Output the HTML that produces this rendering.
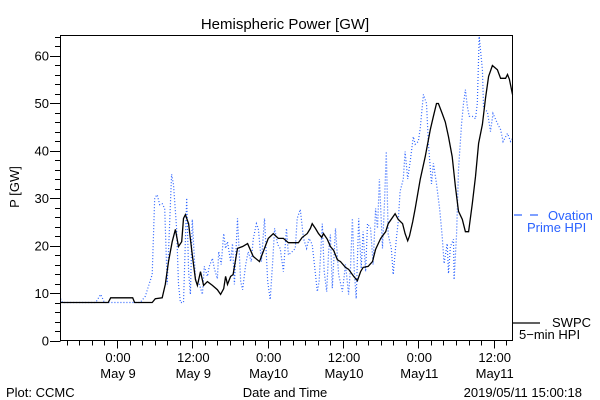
<!DOCTYPE html>
<html><head><meta charset="utf-8">
<style>
html,body{margin:0;padding:0;background:#fff;}
svg{display:block;font-family:"Liberation Sans",sans-serif;}
</style></head>
<body>
<svg id="chart" width="600" height="400" viewBox="0 0 600 400" xmlns="http://www.w3.org/2000/svg">
<rect x="0" y="0" width="600" height="400" fill="#fff"/>
<text x="285" y="29" font-size="15" text-anchor="middle" fill="#000">Hemispheric Power [GW]</text>
<text transform="translate(19,187) rotate(-90)" font-size="13" text-anchor="middle" fill="#000">P [GW]</text>
<text x="285" y="397" font-size="13" text-anchor="middle" fill="#000">Date and Time</text>
<text x="6" y="397" font-size="13" fill="#000">Plot: CCMC</text>
<text x="582" y="397" font-size="13" text-anchor="end" fill="#000">2019/05/11 15:00:18</text>
<g id="ticks"></g>
<g id="series"></g>
<rect x="60.5" y="35.5" width="452" height="305" fill="none" stroke="#000" stroke-width="1"/>
<g>
<line x1="514" y1="215" x2="522" y2="215" stroke="#2a62ff" stroke-width="1.2"/>
<line x1="530" y1="215" x2="538" y2="215" stroke="#2a62ff" stroke-width="1.2"/>
<text x="548" y="220" font-size="13" fill="#2a62ff">Ovation</text>
<text x="527" y="232" font-size="13" fill="#2a62ff">Prime HPI</text>
</g>
<g>
<line x1="513" y1="323" x2="540" y2="323" stroke="#000" stroke-width="1.2"/>
<text x="552" y="327" font-size="13" fill="#000">SWPC</text>
<text x="519" y="339" font-size="13" fill="#000">5−min HPI</text>
</g>
</svg>
<script>
// hours relative to May 9 00:00
const yTicks = [0,10,20,30,40,50,60];
const xTickHours = [0,12,24,36,48,60];
const xTickTimes = ["0:00","12:00","0:00","12:00","0:00","12:00"];
const xTickDates = ["May 9","May 9","May10","May10","May11","May11"];
const swpcT = [-9,-1.4,-1.0,2.5,2.8,5.6,6.1,7.2,7.7,8.2,8.8,9.3,9.8,10.3,10.6,10.9,11.4,12.0,12.5,12.8,13.3,13.8,14.4,15.2,16.0,16.5,17.0,17.3,17.6,18.1,18.5,19.2,20.0,20.8,21.7,22.7,23.6,24.1,24.9,25.7,26.5,27.3,28.9,29.5,30.3,30.8,31.1,31.6,32.1,32.6,32.9,33.5,34.0,34.5,35.1,35.6,36.4,36.9,37.7,38.3,38.8,39.2,40.0,40.7,41.2,42.0,42.8,43.2,44.3,44.8,45.5,45.9,46.3,46.6,47.1,47.5,48.3,49.1,49.9,50.4,50.9,51.2,51.8,52.3,52.8,53.4,53.9,54.4,55.0,55.5,56.0,56.6,57.1,57.6,58.2,58.7,59.2,59.8,60.6,61.1,61.9,62.2,62.5,63.0];
const swpcV = [8,8,9,9,8,8,8.8,9,11.8,16.6,20.8,23.4,19.8,20.8,25.7,26.5,24.6,18,12.8,11.6,14.5,11.6,12.4,11.6,10.7,9.7,10.9,13.5,11.8,13.5,13.9,19.4,19.8,20.4,17.7,16.6,19.8,21.5,22.5,21.5,21.5,20.6,20.6,21.7,22.5,23.6,24.6,23.6,22.5,21.7,22.5,21.3,19.8,19,17,16.6,15.4,15,13.5,12.6,14.5,15.4,15.6,16.6,19.2,21.5,22.9,24.6,26.7,25.5,24.6,22.5,21,22,25,27.8,33.9,38.7,44.4,47.2,49.9,49.9,47.8,46,42.9,38.7,32.4,27.2,25.5,22.9,22.9,28.8,34.5,41.5,45.5,51,55.6,57.9,57,55.2,55.2,56,55,51.8];
const ovationT = [-9,-8.7,-3.4,-2.6,-2.0,3.7,4.5,5.0,5.6,6.0,6.4,6.8,7.2,7.6,8.0,8.7,9.0,9.5,9.8,10.1,10.6,11.1,11.4,11.7,12.0,12.5,13.0,13.6,13.9,14.4,14.7,15.2,15.5,16.0,16.2,16.6,17.0,17.3,17.6,18.1,18.4,18.7,19.2,19.7,20.0,20.5,20.9,21.4,21.7,22.2,22.5,23.0,23.5,24.0,24.4,24.8,25.1,25.6,26.0,26.5,27.0,27.3,27.9,28.4,28.7,29.2,29.7,30.2,30.6,31.1,31.4,31.9,32.2,32.7,33.0,33.4,33.7,34.0,34.3,34.8,35.3,35.9,36.4,36.9,37.2,37.5,37.8,38.1,38.5,38.9,39.2,39.6,39.9,40.4,40.8,41.2,41.5,41.8,42.3,42.6,42.9,43.2,43.7,44.0,44.5,44.8,45.1,45.6,45.9,46.3,46.7,47.2,47.5,48.0,48.3,48.8,49.3,49.6,50.1,50.4,50.9,51.4,51.8,52.1,52.6,52.8,53.1,53.6,53.7,54.1,54.4,54.9,55.2,55.5,55.8,56.1,56.6,57.1,57.4,57.7,58.2,58.4,59.0,59.5,59.9,60.6,61.1,61.5,62.2,62.7,63.0];
const ovationV = [8.8,8,8,9.7,8,8,9.3,11.4,13.9,30,30.7,28.6,28.8,27.8,11.8,35,32.8,23.6,11.8,8,8,30,14.5,9.7,25.5,12.8,12.4,9.7,15.6,13.5,15.6,17.3,15.2,13,18.7,16,22.5,19.4,20.8,16.6,20.4,11.8,25.7,12.4,10.7,16,18.7,16.6,21.3,24.6,23.6,16.6,25.7,12.4,8.6,16.6,23.6,20.2,19.4,14.5,23.6,18,18.7,19.4,25.7,27.6,21.5,19.4,21.5,20.2,16.6,10.3,12.4,24.6,14.5,10.3,18.7,22.3,11,23.6,13.9,10.3,16,9.7,15.2,25.7,14.5,8.8,25.7,15.2,22.9,14.5,24.6,23.6,16,27.8,23.6,34,19.4,28.6,39.8,22.3,19.4,13.9,21.5,25,31.4,34,39.8,34,37.7,42.9,41.3,41.9,44.6,51.8,49.9,41.5,33,37.3,33,27.6,21.9,16.2,20.4,14.1,19.8,21.3,12.8,22.5,36,45.7,49.9,52.8,49.3,47.2,47.2,46.7,49.9,64,57,48.8,48.2,44,47.8,45.7,44.4,41.9,43.6,41.9,42.5];

const X0=60.5, X1=512.5, Y0=340.5, Y1=35.5;
const T0=-9, T1=63, VMAX=(340.5-35.5)/4.75;
function xs(t){return X0+(t-T0)/(T1-T0)*(X1-X0);}
function ys(v){return Y0-v/VMAX*(Y0-Y1);}
const NS="http://www.w3.org/2000/svg";
const tg=document.getElementById('ticks');
function ln(x1,y1,x2,y2,name){
  const l=document.createElementNS(NS,'line');
  l.setAttribute('x1',x1);l.setAttribute('y1',y1);l.setAttribute('x2',x2);l.setAttribute('y2',y2);
  l.setAttribute('stroke','#000');l.setAttribute('stroke-width','1');
  
  
  tg.appendChild(l);
}
function tx(x,y,s,anchor,name){
  const t=document.createElementNS(NS,'text');
  t.setAttribute('x',x);t.setAttribute('y',y);t.setAttribute('font-size','13');
  t.setAttribute('text-anchor',anchor);t.textContent=s;
  
  
  tg.appendChild(t);
}
for(let v=0; v<=64; v+=2){
  const y=Math.round(ys(v))+0.5;
  ln(v%10===0?50:55,y,X0,y,'y-tick');
}
yTicks.forEach(v=>{tx(49,ys(v)+5,String(v),'end','y-tick-label');});
for(let h=-8; h<=62; h+=2){
  const x=Math.round(xs(h))+0.5;
  ln(x,Y0,x,h%12===0?Y0+8:Y0+5,'x-tick');
}
xTickHours.forEach((h,i)=>{
  tx(xs(h)+1,362,xTickTimes[i],'middle','x-tick-time-label');
  tx(xs(h)+1,378,xTickDates[i],'middle','x-tick-date-label');
});
const sg=document.getElementById('series');
function path(T,V,color,dash,w,name){
  let d='';
  T.forEach((t,i)=>{d+=(i?'L':'M')+xs(t).toFixed(1)+','+ys(V[i]).toFixed(1);});
  const p=document.createElementNS(NS,'path');
  p.setAttribute('d',d);p.setAttribute('fill','none');p.setAttribute('stroke',color);
  p.setAttribute('stroke-width',w);if(dash)p.setAttribute('stroke-dasharray',dash);
  p.setAttribute('stroke-linejoin','miter');
  
  
  sg.appendChild(p);
}
path(ovationT,ovationV,'#2a62ff','1 2','1.2','ovation-prime-line');
path(swpcT,swpcV,'#000',null,'1.3','swpc-line');
</script>
</body></html>
